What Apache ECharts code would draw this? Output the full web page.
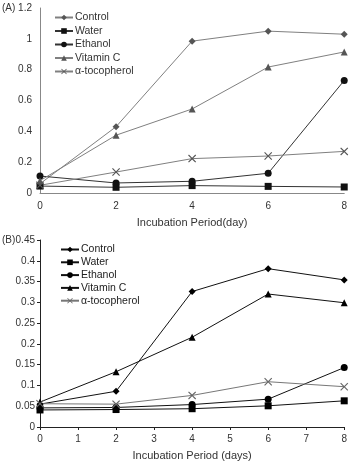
<!DOCTYPE html>
<html>
<head>
<meta charset="utf-8">
<script src="https://cdn.jsdelivr.net/npm/echarts@6/dist/echarts.min.js"></script>
<style>
  html, body { margin: 0; padding: 0; background: #fff; }
  #chart { width: 350px; height: 464px; }
</style>
</head>
<body>
<div id="chart"></div>
<script>
  // days on the x axis
  const daysA = [0, 2, 4, 6, 8];
  const daysB = [0, 2, 4, 6, 8];
  const seriesNames = ['Control', 'Water', 'Ethanol', 'Vitamin C', 'α-tocopherol'];

  // panel (A)
  const controlA = [0.06, 0.43, 0.985, 1.05, 1.03];
  const waterA = [0.045, 0.037, 0.048, 0.043, 0.039];
  const ethanolA = [0.11, 0.065, 0.076, 0.128, 0.73];
  const vitCA = [0.08, 0.375, 0.545, 0.817, 0.915];
  const tocoA = [0.05, 0.136, 0.223, 0.24, 0.27];

  // panel (B)
  const controlB = [0.055, 0.086, 0.326, 0.381, 0.354];
  const waterB = [0.041, 0.042, 0.044, 0.051, 0.063];
  const ethanolB = [0.046, 0.047, 0.054, 0.067, 0.143];
  const vitCB = [0.06, 0.133, 0.216, 0.32, 0.299];
  const tocoB = [0.056, 0.055, 0.076, 0.109, 0.097];

  const crossPath = 'path://M0,1 L1,0 L5,4 L9,0 L10,1 L6,5 L10,9 L9,10 L5,6 L1,10 L0,9 L4,5 Z';
  const symbols = ['diamond', 'rect', 'circle', 'triangle', crossPath];
  const sizes = [7, 7, 7, 7, 8];
  const font = 'Liberation Sans';

  function pairs(xs, ys) {
    return xs.map((x, i) => [x, ys[i]]);
  }

  function makeSeries(idx, dataSets, lineColors, markColors) {
    return dataSets.map((d, i) => ({
      name: seriesNames[i],
      type: 'line',
      xAxisIndex: idx,
      yAxisIndex: idx,
      data: d,
      symbol: symbols[i],
      symbolSize: sizes[i],
      showAllSymbol: true,
      clip: false,
      lineStyle: { color: lineColors[i], width: 1 },
      itemStyle: { color: markColors[i], borderWidth: 0 },
      animation: false
    }));
  }

  const seriesA = makeSeries(0,
    [pairs(daysA, controlA), pairs(daysA, waterA), pairs(daysA, ethanolA), pairs(daysA, vitCA), pairs(daysA, tocoA)],
    ['#808080', '#333', '#333', '#808080', '#808080'],
    ['#555', '#111', '#111', '#555', '#555']);
  const seriesB = makeSeries(1,
    [pairs(daysB, controlB), pairs(daysB, waterB), pairs(daysB, ethanolB), pairs(daysB, vitCB), pairs(daysB, tocoB)],
    ['#111', '#111', '#111', '#111', '#777'],
    ['#000', '#000', '#000', '#000', '#666']);
  // legend names need to be unique per panel
  seriesB.forEach(s => { s.name = s.name + ' '; });

  const axisText = { color: '#333', fontSize: 10, fontFamily: font };

  const option = {
    backgroundColor: '#fff',
    graphic: [
      { type: 'text', left: 2, top: 3, style: { text: '(A)', fontSize: 10, fontFamily: font, fill: '#333' } },
      { type: 'text', left: 2, top: 235, style: { text: '(B)', fontSize: 10, fontFamily: font, fill: '#333' } }
    ],
    grid: [
      { left: 40, top: 8, width: 307, height: 185 },
      { left: 40, top: 240, width: 307, height: 187 }
    ],
    xAxis: [
      {
        gridIndex: 0, type: 'value', min: 0, max: 8, interval: 2,
        name: 'Incubation Period(day)', nameLocation: 'middle', nameGap: 24,
        nameTextStyle: { fontSize: 11, fontFamily: font, color: '#333' },
        axisLine: { lineStyle: { color: '#888' } },
        axisTick: { show: false },
        axisLabel: Object.assign({ margin: 8 }, axisText),
        splitLine: { show: false }
      },
      {
        gridIndex: 1, type: 'value', min: 0, max: 8, interval: 1,
        name: 'Incubation Period (days)', nameLocation: 'middle', nameGap: 23,
        nameTextStyle: { fontSize: 11, fontFamily: font, color: '#333' },
        axisLine: { lineStyle: { color: '#222' } },
        axisTick: { show: true, length: 3, lineStyle: { color: '#222' } },
        axisLabel: Object.assign({ margin: 7 }, axisText),
        splitLine: { show: false }
      }
    ],
    yAxis: [
      {
        gridIndex: 0, type: 'value', min: 0, max: 1.2, interval: 0.2,
        axisLine: { show: true, lineStyle: { color: '#888' } },
        axisTick: { show: false },
        axisLabel: Object.assign({ margin: 8 }, axisText),
        splitLine: { show: false }
      },
      {
        gridIndex: 1, type: 'value', min: 0, max: 0.45, interval: 0.05,
        axisLine: { show: true, lineStyle: { color: '#222' } },
        axisTick: { show: true, length: 3, lineStyle: { color: '#222' } },
        axisLabel: Object.assign({ margin: 5, formatter: v => +v.toFixed(2) + '' }, axisText),
        splitLine: { show: false }
      }
    ],
    legend: [
      {
        data: seriesNames, orient: 'vertical', left: 54, top: 12, padding: 0,
        itemWidth: 18, itemHeight: 7, itemGap: 2.5,
        textStyle: { fontSize: 10.5, fontFamily: font, color: '#333', padding: [0, 0, 0, -3] }
      },
      {
        data: seriesB.map(s => s.name), orient: 'vertical', left: 60, top: 244, padding: 0,
        itemWidth: 18, itemHeight: 7, itemGap: 1.8,
        formatter: n => n.trim(),
        textStyle: { fontSize: 10.5, fontFamily: font, color: '#222', padding: [0, 0, 0, -3] }
      }
    ],
    series: seriesA.concat(seriesB)
  };

  const chart = echarts.init(document.getElementById('chart'));
  chart.setOption(option);
</script>
</body>
</html>
